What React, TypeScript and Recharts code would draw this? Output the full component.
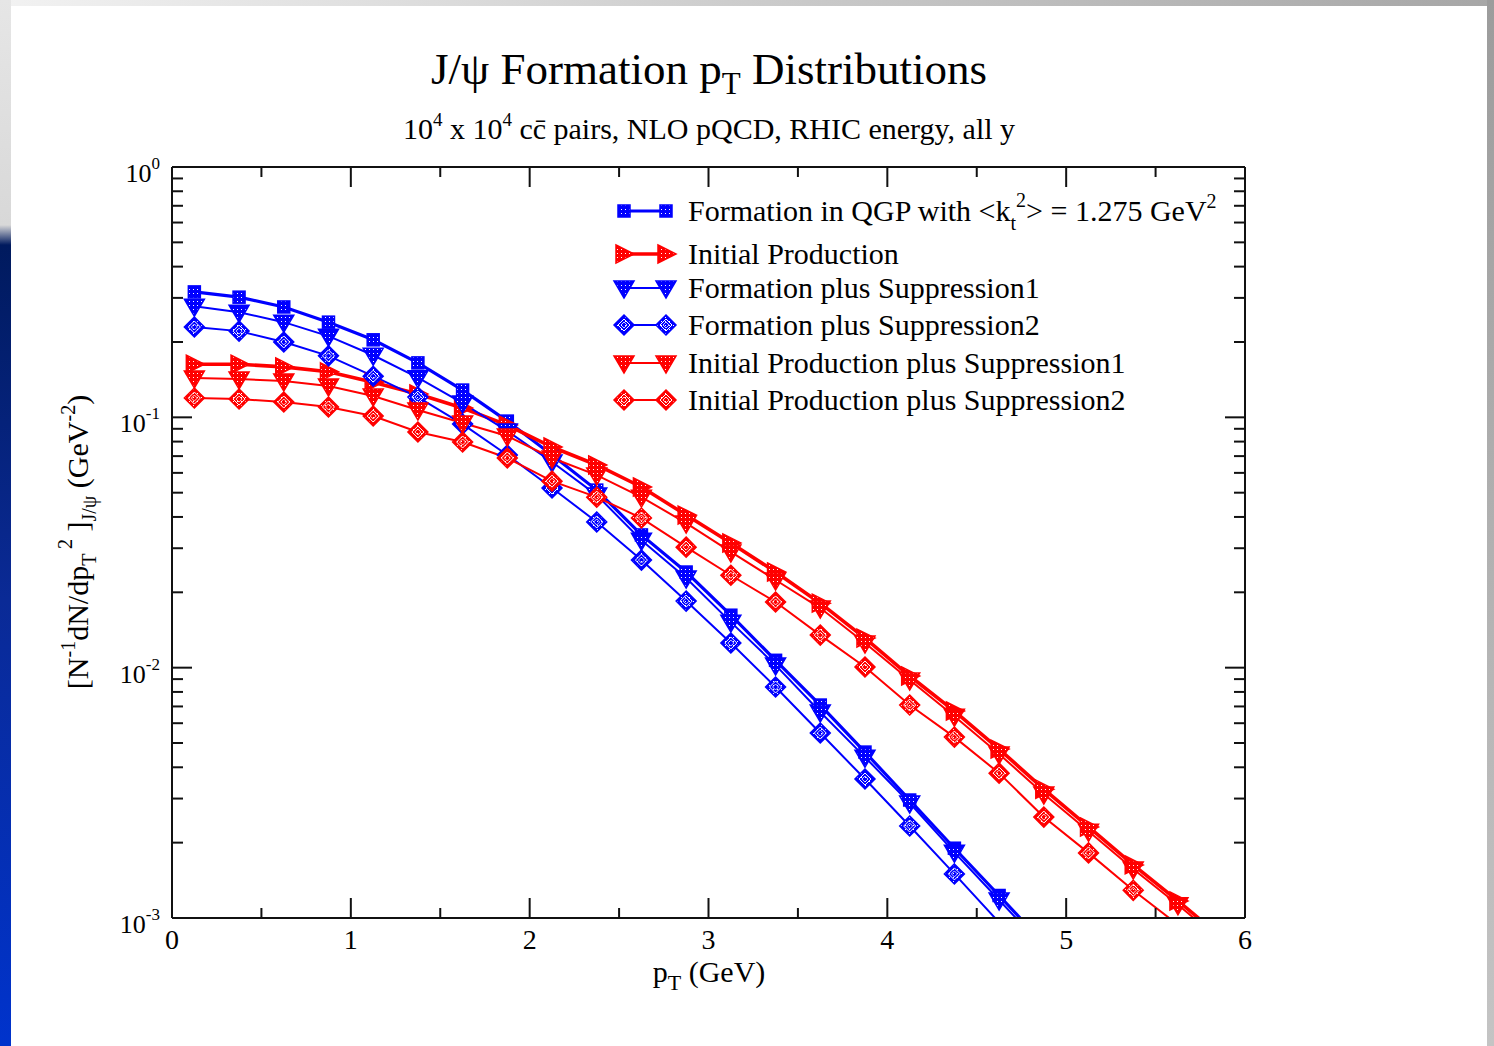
import { LineChart, Line, XAxis, YAxis } from 'recharts';

// transverse momentum bin centres (GeV)
const PT = [
  0.125, 0.375, 0.625, 0.875, 1.125, 1.375, 1.625, 1.875, 2.125, 2.375, 2.625, 2.875,
  3.125, 3.375, 3.625, 3.875, 4.125, 4.375, 4.625, 4.875, 5.125, 5.375, 5.625, 5.875,
];

// formation in QGP, <kt^2> = 1.275 GeV^2
const FORMATION = [
  0.317, 0.302, 0.276, 0.24, 0.204, 0.165, 0.1285, 0.0966, 0.0707, 0.0512, 0.0339, 0.0241,
  0.0162, 0.0107, 0.00709, 0.0046, 0.00296, 0.0019, 0.00123, 0.00079,
];
const FORMATION_SUPP1 = [
  0.278, 0.263, 0.24, 0.211, 0.177, 0.144, 0.114, 0.0882, 0.0663, 0.0489, 0.0323, 0.0228,
  0.0152, 0.01024, 0.00665, 0.00439, 0.00288, 0.00183, 0.00118, 0.00076,
];
const FORMATION_SUPP2 = [
  0.2295, 0.221, 0.2, 0.176, 0.146, 0.1205, 0.094, 0.0707, 0.0522, 0.0382, 0.0269, 0.01845,
  0.01254, 0.00837, 0.00548, 0.00359, 0.00233, 0.0015, 0.00096, 0.00062,
];

// initial production
const INITIAL = [
  0.163, 0.163, 0.159, 0.152, 0.138, 0.124, 0.109, 0.0931, 0.0761, 0.0645, 0.0527, 0.0407,
  0.0315, 0.0241, 0.0181, 0.01313, 0.00926, 0.00671, 0.00473, 0.00327, 0.00231, 0.00163,
  0.00117, 0.00083,
];
const INITIAL_SUPP1 = [
  0.1436, 0.1422, 0.1396, 0.1334, 0.1216, 0.1069, 0.0949, 0.0842, 0.0688, 0.0588, 0.048,
  0.0378, 0.029, 0.0224, 0.0173, 0.01254, 0.00892, 0.0064, 0.00452, 0.00313, 0.00222,
  0.00157, 0.00113, 0.0008,
];
const INITIAL_SUPP2 = [
  0.1194, 0.1183, 0.1151, 0.11, 0.1012, 0.0874, 0.0797, 0.0688, 0.0556, 0.048, 0.0396,
  0.0303, 0.0234, 0.0183, 0.01349, 0.01006, 0.00709, 0.00528, 0.00379, 0.00253, 0.00182,
  0.00129, 0.00094, 0.00068,
];

const X_TICKS = [0, 0.5, 1, 1.5, 2, 2.5, 3, 3.5, 4, 4.5, 5, 5.5, 6];
const Y_DECADES = [-3, -2, -1];

const Y_MIN = 0.001;
const BLUE = '#0000ff';
const RED = '#ff0000';
const FONT = '"Liberation Serif", "Times New Roman", serif';

type Shape = 'square' | 'right' | 'down' | 'diamond';

const SERIES: { key: string; color: string; shape: Shape; width: number; values: number[] }[] = [
  { key: 'formation', color: BLUE, shape: 'square', width: 3.2, values: FORMATION },
  { key: 'initial', color: RED, shape: 'right', width: 3.6, values: INITIAL },
  { key: 'formSupp1', color: BLUE, shape: 'down', width: 2, values: FORMATION_SUPP1 },
  { key: 'formSupp2', color: BLUE, shape: 'diamond', width: 2, values: FORMATION_SUPP2 },
  { key: 'initSupp1', color: RED, shape: 'down', width: 2, values: INITIAL_SUPP1 },
  { key: 'initSupp2', color: RED, shape: 'diamond', width: 2, values: INITIAL_SUPP2 },
];

const yTicks: number[] = [];
Y_DECADES.forEach((k) => {
  for (let m = 1; m <= 9; m++) yTicks.push(+(m * Math.pow(10, k)).toPrecision(3));
});
yTicks.push(1);

const data = PT.map((pt, i) => {
  const row: Record<string, number | null> = { pt };
  SERIES.forEach((s) => {
    row[s.key] = i < s.values.length ? s.values[i] : null;
  });
  return row;
});

const patternId = (color: string) => `pat-${color === BLUE ? 'b' : 'r'}`;

// xmgrace-style symbols: outlined, filled with a dotted pattern
function Marker({ cx, cy, color, shape }: { cx: number; cy: number; color: string; shape: Shape }) {
  const common = { fill: `url(#${patternId(color)})`, stroke: color, strokeWidth: 1.5 };
  if (shape === 'square') return <rect x={cx - 6} y={cy - 6} width={12} height={12} {...common} />;
  if (shape === 'right')
    return <polygon points={`${cx - 8},${cy - 9} ${cx + 10},${cy} ${cx - 8},${cy + 9}`} {...common} />;
  if (shape === 'down')
    return <polygon points={`${cx - 10},${cy - 7} ${cx + 10},${cy - 7} ${cx},${cy + 10}`} {...common} />;
  return (
    <g>
      <polygon points={`${cx},${cy - 10} ${cx + 10},${cy} ${cx},${cy + 10} ${cx - 10},${cy}`} {...common} />
      <polygon
        points={`${cx},${cy - 6} ${cx + 6},${cy} ${cx},${cy + 6} ${cx - 6},${cy}`}
        fill="none"
        stroke="#fff"
        strokeWidth={1}
      />
      <polygon
        points={`${cx},${cy - 3} ${cx + 3},${cy} ${cx},${cy + 3} ${cx - 3},${cy}`}
        fill="none"
        stroke="#fff"
        strokeWidth={0.8}
      />
    </g>
  );
}

function isDecade(v: number) {
  const l = Math.log10(v);
  return Math.abs(l - Math.round(l)) < 1e-6;
}

function XTick(props: any) {
  const { x, y, payload, top } = props;
  const v = payload.value as number;
  const major = Number.isInteger(v);
  const len = major ? 20 : 10;
  const dir = top ? 1 : -1;
  return (
    <g>
      <line x1={x} x2={x} y1={y} y2={y + dir * len} stroke="#111" strokeWidth={2} />
      {!top && major && (
        <text x={x} y={y + 31} textAnchor="middle" fontFamily={FONT} fontSize={28} fill="#000">
          {v}
        </text>
      )}
    </g>
  );
}

function YTick(props: any) {
  const { x, y, payload, right } = props;
  const v = payload.value as number;
  const major = isDecade(v);
  const len = major ? 20 : 11;
  const dir = right ? -1 : 1;
  const exp = Math.round(Math.log10(v));
  return (
    <g>
      <line x1={x} x2={x + dir * len} y1={y} y2={y} stroke="#111" strokeWidth={2} />
      {!right && major && (
        <text x={x - 12} y={y + 15} textAnchor="end" fontFamily={FONT} fontSize={26} fill="#000">
          10
          <tspan dy={-13} fontSize={17}>
            {exp}
          </tspan>
        </text>
      )}
    </g>
  );
}

const LEGEND_ROWS = [
  { y: 211, color: BLUE, shape: 'square' as Shape, width: 3.2 },
  { y: 254, color: RED, shape: 'right' as Shape, width: 3.6 },
  { y: 288, color: BLUE, shape: 'down' as Shape, width: 2 },
  { y: 325, color: BLUE, shape: 'diamond' as Shape, width: 2 },
  { y: 363, color: RED, shape: 'down' as Shape, width: 2 },
  { y: 400, color: RED, shape: 'diamond' as Shape, width: 2 },
];

const LEGEND_LABELS = [
  null,
  'Initial Production',
  'Formation plus Suppression1',
  'Formation plus Suppression2',
  'Initial Production plus Suppression1',
  'Initial Production plus Suppression2',
];

function Overlay() {
  return (
    <svg
      width={1494}
      height={1046}
      style={{ position: 'absolute', left: 0, top: 0, pointerEvents: 'none' }}
      fontFamily={FONT}
    >
      <defs>
        {[BLUE, RED].map((c) => (
          <pattern key={c} id={patternId(c)} width={4} height={4} patternUnits="userSpaceOnUse">
            <rect width={4} height={4} fill={c} />
            <rect x={1} y={1} width={1} height={1} fill="#fff" />
          </pattern>
        ))}
      </defs>
      <text x={709} y={84} textAnchor="middle" fontSize={45} fill="#000">
        J/ψ Formation p
        <tspan dy={10} fontSize={31}>T</tspan>
        <tspan dy={-10}> Distributions</tspan>
      </text>
      <text x={709} y={139} textAnchor="middle" fontSize={30} fill="#000">
        10
        <tspan dy={-13} fontSize={19}>4</tspan>
        <tspan dy={13}> x 10</tspan>
        <tspan dy={-13} fontSize={19}>4</tspan>
        <tspan dy={13}> cc̄ pairs, NLO pQCD, RHIC energy, all y</tspan>
      </text>
      <text x={709} y={982} textAnchor="middle" fontSize={30} fill="#000">
        p
        <tspan dy={8} fontSize={22}>T</tspan>
        <tspan dy={-8}> (GeV)</tspan>
      </text>
      <text transform="translate(88,542) rotate(-90)" textAnchor="middle" fontSize={30} fill="#000">
        [N
        <tspan dy={-13} fontSize={20}>-1</tspan>
        <tspan dy={13}>dN/dp</tspan>
        <tspan dy={8} fontSize={20}>T</tspan>
        <tspan dy={-24} fontSize={20}> 2</tspan>
        <tspan dy={16}> ]</tspan>
        <tspan dy={8} fontSize={20}>J/ψ</tspan>
        <tspan dy={-8}> (GeV</tspan>
        <tspan dy={-13} fontSize={20}>-2</tspan>
        <tspan dy={13}>)</tspan>
      </text>
      {LEGEND_ROWS.map((r, i) => (
        <g key={i}>
          <line x1={624} x2={666} y1={r.y} y2={r.y} stroke={r.color} strokeWidth={r.width} />
          <Marker cx={624} cy={r.y} color={r.color} shape={r.shape} />
          <Marker cx={666} cy={r.y} color={r.color} shape={r.shape} />
          <text x={688} y={r.y + 10} fontSize={30} fill="#000">
            {LEGEND_LABELS[i] ?? (
              <>
                {'Formation in QGP with <k'}
                <tspan dy={9} fontSize={20}>t</tspan>
                <tspan dy={-23} fontSize={20}>2</tspan>
                <tspan dy={14}>{'> = 1.275 GeV'}</tspan>
                <tspan dy={-13} fontSize={20}>2</tspan>
              </>
            )}
          </text>
        </g>
      ))}
    </svg>
  );
}

const axisLine = { stroke: '#111', strokeWidth: 2 };

export default function App() {
  return (
    <div
      style={{
        position: 'absolute',
        left: 0,
        top: 0,
        width: 1494,
        height: 1046,
        overflow: 'hidden',
        background: 'linear-gradient(to right, #f2f2f2, #a6a6a6)',
      }}
    >
      <div
        style={{
          position: 'absolute',
          left: 0,
          top: 0,
          width: 11,
          height: 1046,
          background:
            'linear-gradient(to bottom, #e6e6e6 0px, #d8d8d8 225px, #001a5e 245px, #0a2a96 600px, #0033cc 1046px)',
        }}
      />
      <div
        style={{
          position: 'absolute',
          left: 1487,
          top: 0,
          width: 7,
          height: 1046,
          background: 'linear-gradient(to bottom, #9c9c9c, #c4c4c4)',
        }}
      />
      <div style={{ position: 'absolute', left: 11, top: 6, width: 1476, height: 1040, background: '#fff' }} />
      <div style={{ position: 'absolute', left: 0, top: 0 }}>
        <LineChart width={1494} height={1046} data={data} margin={{ top: 166, right: 248, bottom: 127, left: 171 }}>
          <XAxis
            xAxisId="b"
            type="number"
            dataKey="pt"
            domain={[0, 6]}
            ticks={X_TICKS}
            interval={0}
            height={1}
            tickSize={0}
            tickMargin={0}
            tickLine={false}
            axisLine={axisLine}
            tick={(p: any) => <XTick {...p} />}
          />
          <XAxis
            xAxisId="t"
            orientation="top"
            type="number"
            dataKey="pt"
            domain={[0, 6]}
            ticks={X_TICKS}
            interval={0}
            height={1}
            tickSize={0}
            tickMargin={0}
            tickLine={false}
            axisLine={axisLine}
            tick={(p: any) => <XTick {...p} top />}
          />
          <YAxis
            yAxisId="l"
            type="number"
            scale="log"
            domain={[Y_MIN, 1]}
            allowDataOverflow
            ticks={yTicks}
            interval={0}
            width={1}
            tickSize={0}
            tickMargin={0}
            tickLine={false}
            axisLine={axisLine}
            tick={(p: any) => <YTick {...p} />}
          />
          <YAxis
            yAxisId="r"
            orientation="right"
            type="number"
            scale="log"
            domain={[Y_MIN, 1]}
            allowDataOverflow
            ticks={yTicks}
            interval={0}
            width={1}
            tickSize={0}
            tickMargin={0}
            tickLine={false}
            axisLine={axisLine}
            tick={(p: any) => <YTick {...p} right />}
          />
          {SERIES.map((s) => (
            <Line
              key={s.key}
              xAxisId="b"
              yAxisId="l"
              type="linear"
              dataKey={s.key}
              stroke={s.color}
              strokeWidth={s.width}
              isAnimationActive={false}
              activeDot={false}
              dot={(p: any) => {
                const k = `${s.key}-${p.index}`;
                if (p.value == null || p.value < Y_MIN || p.cy == null) return <g key={k} />;
                return (
                  <g key={k}>
                    <Marker cx={p.cx} cy={p.cy} color={s.color} shape={s.shape} />
                  </g>
                );
              }}
            />
          ))}
        </LineChart>
      </div>
      <Overlay />
    </div>
  );
}
